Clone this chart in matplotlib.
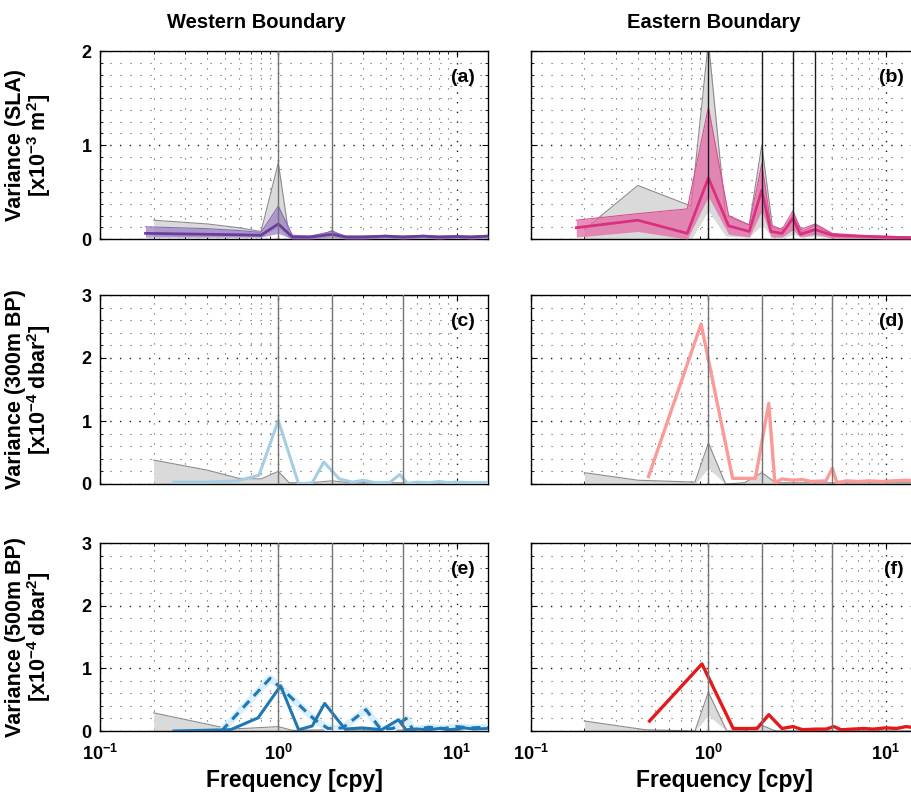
import numpy as np
import matplotlib
matplotlib.use("Agg")
import matplotlib.pyplot as plt
from matplotlib.ticker import MultipleLocator, LogLocator, NullFormatter

plt.rcParams["font.family"] = "Liberation Sans"
plt.rcParams["font.weight"] = "bold"
plt.rcParams["axes.labelweight"] = "bold"
plt.rcParams["mathtext.fontset"] = "custom"
plt.rcParams["mathtext.rm"] = "Liberation Sans:bold"
plt.rcParams["mathtext.bf"] = "Liberation Sans:bold"
plt.rcParams["mathtext.it"] = "Liberation Sans:bold"
plt.rcParams["mathtext.default"] = "rm"

# (a) western boundary SLA  [x1e-3 m^2]
a_grey_f = [0.2, 0.4, 0.6, 0.8, 1.0, 1.15, 1.4, 1.7, 2.0, 2.3, 3.0, 4.0, 6.0, 9.0, 15.0]
a_grey_hi = [0.20, 0.16, 0.12, 0.08, 0.81, 0.03, 0.03, 0.03, 0.09, 0.03, 0.03, 0.03, 0.03, 0.03, 0.03]
a_grey_lo = [0.03, 0.02, 0.02, 0.02, 0.12, 0.0, 0.0, 0.0, 0.0, 0.0, 0.0, 0.0, 0.0, 0.0, 0.0]
a_f = [0.18, 0.4, 0.6, 0.8, 1.0, 1.2, 1.5, 2.0, 2.4, 3.0, 4.0, 5.0, 6.5, 8.0, 10.0, 12.0, 15.0]
a_mean = [0.06, 0.05, 0.045, 0.04, 0.16, 0.02, 0.02, 0.05, 0.02, 0.02, 0.03, 0.02, 0.03, 0.02, 0.025, 0.02, 0.03]
a_hi = [0.13, 0.11, 0.09, 0.07, 0.35, 0.04, 0.03, 0.08, 0.03, 0.03, 0.04, 0.03, 0.04, 0.03, 0.035, 0.03, 0.04]
a_lo = [0.02, 0.02, 0.02, 0.02, 0.06, 0.0, 0.0, 0.02, 0.0, 0.0, 0.01, 0.0, 0.01, 0.0, 0.01, 0.0, 0.01]

# (b) eastern boundary SLA
b_grey_f = [0.2, 0.4, 0.8, 1.0, 1.25, 1.7, 2.0, 2.3, 2.7, 3.0, 3.4, 4.0, 5.0, 8.0, 15.0]
b_grey_hi = [0.10, 0.57, 0.35, 2.10, 0.25, 0.15, 1.00, 0.12, 0.10, 0.26, 0.08, 0.15, 0.05, 0.03, 0.02]
b_grey_lo = [0.0, 0.0, 0.0, 0.30, 0.03, 0.02, 0.15, 0.02, 0.02, 0.05, 0.02, 0.03, 0.01, 0.0, 0.0]
b_f = [0.18, 0.4, 0.76, 1.0, 1.3, 1.7, 2.0, 2.25, 2.6, 3.0, 3.3, 4.0, 5.0, 7.0, 10.0, 15.0]
b_mean = [0.12, 0.20, 0.06, 0.65, 0.14, 0.08, 0.52, 0.08, 0.06, 0.22, 0.05, 0.10, 0.04, 0.03, 0.02, 0.01]
b_hi = [0.20, 0.27, 0.32, 1.40, 0.25, 0.15, 0.80, 0.15, 0.10, 0.30, 0.10, 0.16, 0.06, 0.04, 0.03, 0.02]
b_lo = [0.02, 0.08, 0.0, 0.45, 0.05, 0.02, 0.30, 0.02, 0.02, 0.10, 0.02, 0.05, 0.01, 0.01, 0.0, 0.0]

# (c) western boundary 300 m bottom pressure  [x1e-4 dbar^2]
c_grey_f = [0.2, 0.4, 0.6, 0.8, 1.0, 1.15, 1.5, 2.0, 2.5, 3.0, 4.0, 6.0, 10.0, 15.0]
c_grey_hi = [0.38, 0.22, 0.09, 0.08, 0.20, 0.02, 0.02, 0.05, 0.02, 0.02, 0.02, 0.02, 0.02, 0.02]
c_f = [0.26, 0.4, 0.59, 0.78, 1.0, 1.3, 1.55, 1.8, 2.2, 2.6, 3.0, 3.5, 4.2, 4.8, 5.3, 6.0, 7.0, 8.0, 9.0, 10.0, 12.0, 15.0]
c_var = [0.03, 0.03, 0.05, 0.14, 1.01, 0.0, 0.02, 0.35, 0.08, 0.03, 0.06, 0.02, 0.02, 0.15, 0.01, 0.03, 0.02, 0.04, 0.02, 0.03, 0.02, 0.02]

# (d) eastern boundary 300 m bottom pressure
d_grey_f = [0.2, 0.4, 0.84, 1.0, 1.25, 1.6, 2.0, 2.4, 3.0, 5.0, 8.0, 15.0]
d_grey_hi = [0.18, 0.06, 0.03, 0.65, 0.0, 0.02, 0.18, 0.02, 0.02, 0.02, 0.02, 0.02]
d_grey_lo = [0.0, 0.0, 0.0, 0.25, 0.0, 0.0, 0.0, 0.0, 0.0, 0.0, 0.0, 0.0]
d_f = [0.46, 0.91, 1.37, 1.84, 2.19, 2.37, 2.6, 3.0, 3.4, 3.8, 4.6, 5.0, 5.3, 6.0, 7.0, 8.0, 9.5, 11.0, 13.0, 15.0]
d_var = [0.12, 2.54, 0.09, 0.09, 1.28, 0.02, 0.08, 0.06, 0.07, 0.04, 0.05, 0.25, 0.02, 0.05, 0.04, 0.05, 0.04, 0.05, 0.06, 0.05]

# (e) western boundary 500 m bottom pressure (solid and dashed records)
e_grey_f = [0.2, 0.54, 1.0, 1.2, 2.0, 15.0]
e_grey_hi = [0.29, 0.03, 0.07, 0.01, 0.02, 0.01]
e_f = [0.26, 0.54, 0.77, 1.03, 1.3, 1.55, 1.82, 2.37, 2.95, 3.8, 4.72, 5.2, 6.0, 7.0, 8.0, 9.0, 10.0, 11.0, 12.5, 15.0]
e_var = [0.0, 0.02, 0.21, 0.72, 0.02, 0.08, 0.44, 0.03, 0.05, 0.02, 0.18, 0.02, 0.03, 0.02, 0.04, 0.02, 0.03, 0.05, 0.03, 0.04]
e_dash_f = [0.48, 0.9, 1.07, 1.6, 1.9, 2.3, 3.1, 3.75, 4.4, 5.2, 5.7, 7.0, 8.5, 10.0, 12.0, 15.0]
e_dash = [0.0, 0.84, 0.65, 0.18, 0.04, 0.05, 0.34, 0.03, 0.04, 0.20, 0.02, 0.06, 0.04, 0.07, 0.05, 0.06]

# (f) eastern boundary 500 m bottom pressure
f_grey_f = [0.2, 0.44, 0.84, 1.0, 1.27, 1.6, 2.0, 2.4, 4.0, 15.0]
f_grey_hi = [0.16, 0.02, 0.0, 0.62, 0.0, 0.0, 0.09, 0.0, 0.0, 0.0]
f_grey_lo = [0.0, 0.0, 0.0, 0.25, 0.0, 0.0, 0.0, 0.0, 0.0, 0.0]
f_f = [0.466, 0.92, 1.38, 1.88, 2.19, 2.6, 3.0, 3.4, 4.0, 4.6, 5.1, 5.6, 6.5, 7.5, 8.5, 10.0, 11.5, 13.0, 15.0]
f_var = [0.16, 1.07, 0.04, 0.04, 0.26, 0.04, 0.07, 0.02, 0.03, 0.03, 0.07, 0.02, 0.03, 0.04, 0.03, 0.05, 0.04, 0.07, 0.05]


def style_axes(ax, ymax, yminor, left_labels, bottom_labels):
    ax.set_xscale("log")
    ax.set_xlim(0.1, 15)
    ax.set_ylim(0, ymax)
    ax.yaxis.set_major_locator(MultipleLocator(1))
    ax.yaxis.set_minor_locator(MultipleLocator(yminor))
    ax.xaxis.set_major_locator(LogLocator(base=10, numticks=5))
    ax.xaxis.set_minor_locator(LogLocator(base=10, subs=np.arange(2, 10), numticks=20))
    ax.xaxis.set_minor_formatter(NullFormatter())
    ax.grid(True, which="major", ls=(0, (1, 6)), color="0.1", lw=1.0)
    ax.grid(True, which="minor", ls=(0, (1, 8)), color="0.35", lw=0.8)
    ax.set_axisbelow(True)
    ax.tick_params(which="both", direction="in", top=True, right=True, labelsize=13)
    ax.tick_params(axis="y", pad=6)
    ax.tick_params(axis="x", pad=9)
    ax.tick_params(which="major", length=4)
    ax.tick_params(which="minor", length=2)
    for sp in ax.spines.values():
        sp.set_linewidth(1.0)
    if bottom_labels:
        ax.set_xticks([0.1, 1, 10])
        ax.set_xticklabels([r"$10^{-1}$", r"$10^{0}$", r"$10^{1}$"])
        ax.set_xlabel("Frequency [cpy]", fontsize=16.5, labelpad=4)
    else:
        ax.tick_params(labelbottom=False)
    if not left_labels:
        ax.tick_params(labelleft=False)


def draw_grey(ax, f, hi, lo=0.0):
    ax.fill_between(f, lo, hi, color="#dadada", lw=0, zorder=2)
    ax.plot(f, hi, color="0.55", lw=0.8, zorder=2.2)


def mark_lines(ax, freqs, color="0.45"):
    for fr in freqs:
        ax.axvline(fr, color=color, lw=1.0, zorder=5)


def panel_label(ax, text):
    ax.text(0.965, 0.86, text, transform=ax.transAxes, ha="right", va="center",
            fontsize=14, fontweight="bold", zorder=10)


fig = plt.figure(figsize=(9.11, 7.99), dpi=100)
W, H = 911.0, 799.0
lefts = [100 / W, 531 / W]
widths = [388 / W, 386 / W]
rows = [(51, 239), (295, 484), (543, 731)]

axes = []
for top, bot in rows:
    row = []
    for c in range(2):
        row.append(fig.add_axes([lefts[c], 1 - bot / H, widths[c], (bot - top) / H]))
    axes.append(row)

ax_a, ax_b = axes[0]
ax_c, ax_d = axes[1]
ax_e, ax_f = axes[2]

# SLA row
draw_grey(ax_a, a_grey_f, a_grey_hi, a_grey_lo)
ax_a.fill_between(a_f, a_lo, a_hi, color="#9c82c6", alpha=0.75, lw=0, zorder=3)
ax_a.plot(a_f, a_hi, color="#8a6cbb", lw=0.8, zorder=3.2)
ax_a.plot(a_f, a_mean, color="#6a3d9a", lw=2.0, zorder=4)
mark_lines(ax_a, [1, 2])

draw_grey(ax_b, b_grey_f, b_grey_hi, b_grey_lo)
ax_b.fill_between(b_f, b_lo, b_hi, color="#e46aa6", alpha=0.75, lw=0, zorder=3)
ax_b.plot(b_f, b_hi, color="#dc4f94", lw=0.8, zorder=3.2)
ax_b.plot(b_f, b_mean, color="#d9307f", lw=2.0, zorder=4)
mark_lines(ax_b, [1, 2, 3, 4], color="0.1")

# 300 m row
draw_grey(ax_c, c_grey_f, c_grey_hi)
ax_c.plot(c_f, c_var, color="#a6cee3", lw=2.2, zorder=4)
mark_lines(ax_c, [1, 2, 5])

draw_grey(ax_d, d_grey_f, d_grey_hi, d_grey_lo)
ax_d.plot(d_f, d_var, color="#fb9a99", lw=2.4, zorder=4)
mark_lines(ax_d, [1, 2, 5])

# 500 m row
draw_grey(ax_e, e_grey_f, e_grey_hi)
ax_e.plot(e_dash_f, e_dash, color="#d8effb", lw=5.0, zorder=3.5)
ax_e.plot(e_dash_f, e_dash, color="#1f78b4", lw=2.2, ls=(0, (3, 2.2)), zorder=4)
ax_e.plot(e_f, e_var, color="#1f78b4", lw=2.2, zorder=4.2)
mark_lines(ax_e, [1, 2, 5])

draw_grey(ax_f, f_grey_f, f_grey_hi, f_grey_lo)
ax_f.plot(f_f, f_var, color="#e31a1c", lw=2.4, zorder=4)
mark_lines(ax_f, [1, 2, 5])

style_axes(ax_a, 2, 0.125, True, False)
style_axes(ax_b, 2, 0.125, False, False)
style_axes(ax_c, 3, 0.2, True, False)
style_axes(ax_d, 3, 0.2, False, False)
style_axes(ax_e, 3, 0.2, True, True)
style_axes(ax_f, 3, 0.2, False, True)

ylabels = [
    "Variance (SLA)\n[x10$^{-3}$ m$^{2}$]",
    "Variance (300m BP)\n[x10$^{-4}$ dbar$^{2}$]",
    "Variance (500m BP)\n[x10$^{-4}$ dbar$^{2}$]",
]
for row, lab in zip(axes, ylabels):
    row[0].set_ylabel(lab, fontsize=15.5, linespacing=1.0)
    row[0].yaxis.set_label_coords(-0.12, 0.5)

for ax, lab in zip([ax_a, ax_b, ax_c, ax_d, ax_e, ax_f], ["(a)", "(b)", "(c)", "(d)", "(e)", "(f)"]):
    panel_label(ax, lab)

fig.text(256 / W, 1 - 22 / H, "Western Boundary", ha="center", va="center", fontsize=14.5, fontweight="bold")
fig.text(714 / W, 1 - 22 / H, "Eastern Boundary", ha="center", va="center", fontsize=14.5, fontweight="bold")

fig.savefig("out.png", dpi=100)
